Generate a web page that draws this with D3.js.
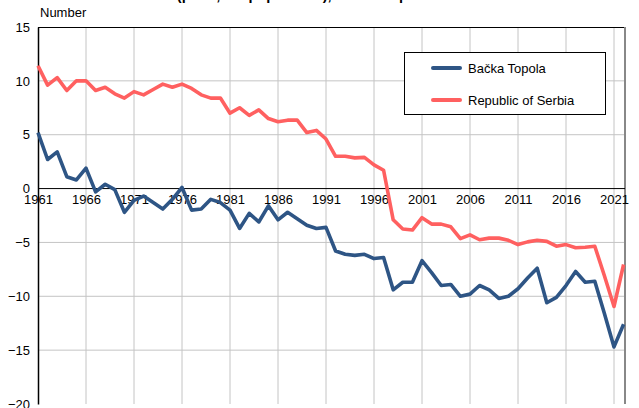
<!DOCTYPE html>
<meta charset="utf-8">
<head>
<style type='text/css'>
  body {
    margin: 0;
    background: #fff;
    font-family: 'Liberation Sans', Arial, sans-serif;
  }
  .grid line {
    stroke: #c4c4c4;
    stroke-width: 1;
  }
  .axis text {
    font-size: 13px;
    fill: #000;
  }
  .series {
    fill: none;
    stroke-width: 3.6;
    stroke-linejoin: round;
  }
</style>
</head>
<body>
<svg id="chart" width="639" height="408"></svg>
<script src="https://d3js.org/d3.v7.min.js"></script>
<script>
// years and series (natural increase per 1,000 population)
var years = d3.range(1961, 2023);

var backaTopola = [5.2, 2.7, 3.4, 1.1, 0.8, 1.9, -0.3, 0.4, -0.1, -2.2,
  -1.1, -0.7, -1.3, -1.9, -1.0, 0.1, -2.0, -1.9, -1.0, -1.3,
  -2.0, -3.7, -2.3, -3.1, -1.6, -2.9, -2.2, -2.8, -3.4, -3.7,
  -3.6, -5.8, -6.1, -6.2, -6.1, -6.5, -6.4, -9.4, -8.7, -8.7,
  -6.7, -7.8, -9.0, -8.9, -10.0, -9.8, -9.0, -9.4, -10.2, -10.0,
  -9.3, -8.3, -7.4, -10.6, -10.1, -9.0, -7.7, -8.7, -8.6, -11.6,
  -14.7, -12.6];

var serbia = [11.4, 9.6, 10.3, 9.1, 10.0, 10.0, 9.1, 9.4, 8.8, 8.4,
  9.0, 8.7, 9.2, 9.7, 9.4, 9.7, 9.3, 8.7, 8.4, 8.4,
  7.0, 7.5, 6.8, 7.3, 6.5, 6.2, 6.35, 6.35, 5.2, 5.4,
  4.6, 3.0, 3.0, 2.85, 2.9, 2.2, 1.7, -2.9, -3.75, -3.85,
  -2.7, -3.3, -3.3, -3.55, -4.65, -4.3, -4.75, -4.6, -4.6, -4.8,
  -5.2, -4.95, -4.8, -4.9, -5.35, -5.2, -5.5, -5.45, -5.35, -8.1,
  -10.95, -7.05];

var yearTicks = d3.range(1961, 2022, 5);
var valueTicks = [15, 10, 5, 0, -5, -10, -15, -20];

var seriesNames = ["Bačka Topola", "Republic of Serbia"];
var seriesColors = ["#2e5585", "#ff6060"];

var svg = d3.select("#chart");

// plot area edges (note: "top" is reserved on window)
var plotLeft = 38, plotRight = 625, plotTop = 27, plotBottom = 404;

var x = d3.scaleLinear()
    .domain([1961, 2022])
    .range([plotLeft, 623.6]);

var y = d3.scaleLinear()
    .domain([-20, 15])
    .range([plotBottom, plotTop]);

// title (cut off at top of the picture)
svg.append("text")
    .attr("x", 60)
    .attr("y", -0.5)
    .style("font-size", "14.5px")
    .style("font-weight", "bold")
    .text("Natural increase (per 1,000 population), Bačka Topola");

// unit label
svg.append("text")
    .attr("x", 40)
    .attr("y", 17)
    .style("font-size", "13px")
    .text("Number");

// grid lines
var grid = svg.append("g").attr("class", "grid");

grid.selectAll(".vgrid")
    .data(yearTicks.slice(1))
    .enter().append("line")
      .attr("x1", function(d) { return x(d); })
      .attr("x2", function(d) { return x(d); })
      .attr("y1", plotTop)
      .attr("y2", plotBottom);

grid.selectAll(".hgrid")
    .data(valueTicks.filter(function(d) { return d !== 0 && d !== 15 && d !== -20; }))
    .enter().append("line")
      .attr("x1", plotLeft)
      .attr("x2", plotRight)
      .attr("y1", function(d) { return y(d); })
      .attr("y2", function(d) { return y(d); });

// frame
svg.append("line")
    .attr("x1", plotLeft).attr("x2", plotRight)
    .attr("y1", plotTop + 0.5).attr("y2", plotTop + 0.5)
    .attr("stroke", "#000");

svg.append("line")
    .attr("x1", plotRight).attr("x2", plotRight)
    .attr("y1", plotTop).attr("y2", plotBottom)
    .attr("stroke", "#888")
    .attr("stroke-width", 2);

// y axis
var yAxis = svg.append("g")
    .attr("class", "axis")
    .attr("transform", "translate(" + plotLeft + ",0)")
    .call(d3.axisLeft(y).tickValues(valueTicks).tickSize(0).tickPadding(8));
yAxis.select(".domain").attr("stroke", "#000").attr("stroke-width", 1.5);

// zero line with year labels
var xAxis = svg.append("g")
    .attr("class", "axis")
    .attr("transform", "translate(0," + y(0) + ")")
    .call(d3.axisBottom(x).tickValues(yearTicks).tickFormat(d3.format("d")).tickSize(0).tickPadding(6));
xAxis.select(".domain").attr("stroke", "#000").attr("d", "M" + plotLeft + ",0H" + plotRight);

// lines
var line = d3.line()
    .x(function(d, i) { return x(years[i]); })
    .y(function(d) { return y(d); });

[backaTopola, serbia].forEach(function(s, i) {
  svg.append("path")
      .datum(s)
      .attr("class", "series")
      .attr("stroke", seriesColors[i])
      .attr("d", line);
});

// legend
var legend = svg.append("g");

legend.append("rect")
    .attr("x", 404.5)
    .attr("y", 52.5)
    .attr("width", 201)
    .attr("height", 62)
    .attr("fill", "#fff")
    .attr("stroke", "#000");

var items = legend.selectAll(".item")
    .data(seriesNames)
    .enter().append("g")
      .attr("transform", function(d, i) { return "translate(0," + (68 + i * 32) + ")"; });

items.append("line")
    .attr("x1", 433)
    .attr("x2", 460)
    .attr("stroke", function(d, i) { return seriesColors[i]; })
    .attr("stroke-width", 4)
    .attr("stroke-linecap", "round");

items.append("text")
    .attr("x", 468)
    .attr("dy", "0.35em")
    .style("font-size", "13px")
    .text(function(d) { return d; });
</script>
</body>
